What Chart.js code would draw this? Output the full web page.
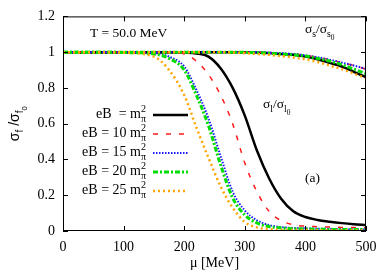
<!DOCTYPE html>
<html>
<head>
<meta charset="utf-8">
<script src="https://cdn.jsdelivr.net/npm/chart.js@4.4.0/dist/chart.umd.min.js"></script>
<style>
  html, body { margin: 0; padding: 0; background: #fff; }
  #wrap { width: 389px; height: 273px; }
</style>
</head>
<body>
<div id="wrap"><canvas id="sigma_chart" width="389" height="273"></canvas></div>
<script>
// chemical potential grid (MeV)
var mu = [0, 50, 100, 150, 175, 200, 220, 240, 260, 280, 300, 320, 340, 360, 380, 400, 420, 440, 460, 480, 500];

// field strengths (units of m_pi^2), legend order
var fields = ['', '10', '15', '20', '25'];

// sigma_l / sigma_l0
var sigL_1  = [1, 1, 1, 1, 1, 0.998, 0.993, 0.975, 0.91, 0.8, 0.645, 0.45, 0.295, 0.18, 0.11, 0.078, 0.062, 0.052, 0.044, 0.038, 0.034];
var sigL_10 = [1, 1, 1, 1, 0.998, 0.99, 0.95, 0.875, 0.76, 0.6, 0.38, 0.22, 0.11, 0.058, 0.035, 0.027, 0.024, 0.022, 0.02, 0.019, 0.018];
var sigL_15 = [1, 1, 1, 0.995, 0.975, 0.92, 0.79, 0.63, 0.42, 0.22, 0.115, 0.06, 0.033, 0.022, 0.017, 0.015, 0.013, 0.012, 0.011, 0.01, 0.01];
var sigL_20 = [1, 1, 0.998, 0.99, 0.965, 0.9, 0.76, 0.59, 0.37, 0.185, 0.09, 0.045, 0.025, 0.017, 0.013, 0.011, 0.01, 0.009, 0.009, 0.008, 0.008];
var sigL_25 = [1, 1, 0.997, 0.975, 0.9, 0.76, 0.58, 0.41, 0.25, 0.13, 0.05, 0.02, 0.01, 0.006, 0.005, 0.005, 0.004, 0.004, 0.004, 0.004, 0.004];

// sigma_s / sigma_s0
var sigS_1  = [1, 1, 1, 1, 1, 1, 1, 1, 1, 1, 1, 0.998, 0.995, 0.99, 0.985, 0.975, 0.96, 0.94, 0.92, 0.89, 0.86];
var sigS_10 = [1, 1, 1, 1, 1, 1, 1, 1, 1, 1, 1, 0.999, 0.997, 0.994, 0.99, 0.982, 0.972, 0.958, 0.942, 0.925, 0.905];
var sigS_15 = [1, 1, 1, 1, 1, 1, 1, 1, 1, 1, 1, 0.999, 0.997, 0.994, 0.99, 0.982, 0.972, 0.958, 0.942, 0.925, 0.907];
var sigS_20 = [1, 1, 1, 1, 1, 1, 1, 1, 1, 1, 0.999, 0.997, 0.994, 0.99, 0.985, 0.978, 0.965, 0.95, 0.93, 0.905, 0.88];
var sigS_25 = [1, 1, 1, 1, 1, 1, 1, 1, 1, 0.998, 0.995, 0.99, 0.985, 0.978, 0.97, 0.96, 0.945, 0.925, 0.905, 0.88, 0.855];

var xTicks = [0, 100, 200, 300, 400, 500];
var yTicks = [0, 0.2, 0.4, 0.6, 0.8, 1, 1.2];

var styles = [
    { color: '#000000', width: 2.5, dash: [] },
    { color: '#ff1a1a', width: 1.5, dash: [5, 8] },
    { color: '#1a1aff', width: 2, dash: [1.5, 1.5] },
    { color: '#00dd00', width: 3, dash: [5, 2, 2, 2] },
    { color: '#ffa500', width: 2.5, dash: [2, 3] }
];

var lSeries = [sigL_1, sigL_10, sigL_15, sigL_20, sigL_25];
var sSeries = [sigS_1, sigS_10, sigS_15, sigS_20, sigS_25];

function pts(arr) {
    var out = [];
    for (var i = 0; i < mu.length; i++) out.push({ x: mu[i], y: arr[i] });
    return out;
}

var datasets = [];
for (var i = 0; i < fields.length; i++) {
    [lSeries[i], sSeries[i]].forEach(function(s) {
        datasets.push({
            label: 'eB = ' + fields[i] + ' m2pi',
            data: pts(s),
            borderColor: styles[i].color,
            borderWidth: styles[i].width,
            borderDash: styles[i].dash,
            pointRadius: 0,
            fill: false,
            cubicInterpolationMode: 'monotone',
            order: fields.length - i
        });
    });
}

var SERIF = '"Liberation Serif", "DejaVu Serif", serif';

// draws text with sub / superscripts; kind 0 normal, 1 sub, 2 sup, 3 subsub
function rich(ctx, parts, x, y, align, family, base) {
    base = base || 13.5;
    var spec = { 0: [base, 0], 1: [base * 0.72, base * 0.3], 2: [base * 0.72, -base * 0.45], 3: [base * 0.55, base * 0.55] };
    var w = 0;
    parts.forEach(function(p) {
        ctx.font = spec[p[1]][0] + 'px ' + family;
        p.w = ctx.measureText(p[0]).width;
        if (!p.overlap) w += p.w;
    });
    var cx = align === 'right' ? x - w : (align === 'center' ? x - w / 2 : x);
    ctx.textAlign = 'left';
    ctx.textBaseline = 'alphabetic';
    parts.forEach(function(p) {
        ctx.font = spec[p[1]][0] + 'px ' + family;
        ctx.fillText(p[0], cx, y + spec[p[1]][1]);
        if (!p.overlap) cx += p.w;
    });
}

var decor = {
    id: 'decor',
    afterDraw: function(chart) {
        var ctx = chart.ctx;
        var a = chart.chartArea;
        var xs = chart.scales.x, ys = chart.scales.y;
        ctx.save();
        ctx.strokeStyle = '#000';
        ctx.lineWidth = 1;
        ctx.setLineDash([]);
        ctx.strokeRect(a.left + 0.5, a.top + 0.5, a.right - a.left - 1, a.bottom - a.top - 1);
        ctx.beginPath();
        xTicks.forEach(function(v) {
            var px = Math.round(xs.getPixelForValue(v)) + 0.5;
            ctx.moveTo(px, a.bottom); ctx.lineTo(px, a.bottom - 5);
            ctx.moveTo(px, a.top); ctx.lineTo(px, a.top + 5);
        });
        yTicks.forEach(function(v) {
            var py = Math.round(ys.getPixelForValue(v)) + 0.5;
            ctx.moveTo(a.left, py); ctx.lineTo(a.left + 5, py);
            ctx.moveTo(a.right, py); ctx.lineTo(a.right - 5, py);
        });
        ctx.stroke();

        ctx.fillStyle = '#000';
        // legend
        var rowY = [118, 137, 156, 175, 194];
        for (var i = 0; i < fields.length; i++) {
            var lab = fields[i] === '' ? 'eB  = m' : 'eB = ' + fields[i] + ' m';
            var parts = [[lab, 0], ['2', 2], ['\u03c0', 1]];
            parts[1].overlap = true;
            rich(ctx, parts, 146, rowY[i], 'right', SERIF, 14);
            ctx.beginPath();
            ctx.strokeStyle = styles[i].color;
            ctx.lineWidth = styles[i].width;
            ctx.setLineDash(styles[i].dash);
            ctx.moveTo(153, rowY[i] - 3);
            ctx.lineTo(188, rowY[i] - 3);
            ctx.stroke();
        }
        ctx.setLineDash([]);

        // annotations
        rich(ctx, [['T = 50.0 MeV', 0]], 90, 37, 'left', SERIF);
        rich(ctx, [['\u03c3', 0], ['s', 1], ['/\u03c3', 0], ['s', 1], ['0', 3]], 305, 33, 'left', SERIF);
        rich(ctx, [['\u03c3', 0], ['l', 1], ['/\u03c3', 0], ['l', 1], ['0', 3]], 263, 108, 'left', SERIF);
        rich(ctx, [['(a)', 0]], 305, 182, 'left', SERIF);

        // axis titles
        rich(ctx, [['\u03bc [MeV]', 0]], (a.left + a.right) / 2, 267, 'center', SERIF, 14);
        ctx.translate(19, (a.top + a.bottom) / 2);
        ctx.rotate(-Math.PI / 2);
        rich(ctx, [['\u03c3', 0], ['f', 1], [' /\u03c3', 0], ['f', 1], ['0', 3]], 0, 0, 'center', '"Liberation Sans", sans-serif', 14);
        ctx.restore();
    }
};

var canvas = document.getElementById('sigma_chart');
var chart = new Chart(canvas, {
    type: 'line',
    data: { datasets: datasets },
    options: {
        responsive: false,
        animation: false,
        layout: { padding: { left: 0, top: 15, right: 23, bottom: 0 } },
        plugins: { legend: { display: false }, tooltip: { enabled: false } },
        scales: {
            x: {
                type: 'linear',
                min: 0, max: 500,
                afterBuildTicks: function(s) { s.ticks = xTicks.map(function(v) { return { value: v }; }); },
                afterFit: function(s) { s.height = 42; },
                grid: { display: false, drawTicks: false },
                border: { display: false },
                ticks: { color: '#000', padding: 8, maxRotation: 0, font: { family: SERIF, size: 14 } }
            },
            y: {
                min: 0, max: 1.2,
                afterBuildTicks: function(s) { s.ticks = yTicks.map(function(v) { return { value: v }; }); },
                afterFit: function(s) { s.width = 63; },
                grid: { display: false, drawTicks: false },
                border: { display: false },
                ticks: {
                    color: '#000', padding: 8, font: { family: SERIF, size: 14 },
                    callback: function(v) { return String(+v.toFixed(1)); }
                }
            }
        }
    },
    plugins: [decor]
});
</script>
</body>
</html>
